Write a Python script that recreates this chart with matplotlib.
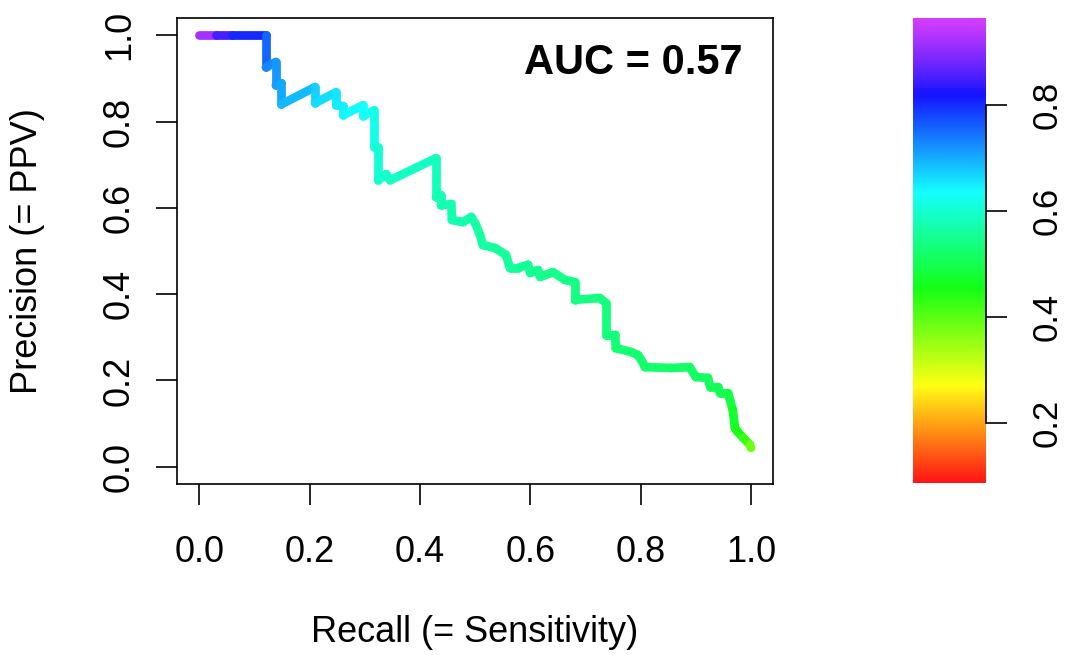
import numpy as np
import matplotlib
matplotlib.use("Agg")
import matplotlib.pyplot as plt
from matplotlib.collections import LineCollection
from matplotlib.colors import ListedColormap, hsv_to_rgb

plt.rcParams['font.family'] = ['Liberation Sans', 'DejaVu Sans']

# precision / recall curve, with the cutoff at each vertex
recall = [0.000, 0.030, 0.060, 0.121, 0.121, 0.139, 0.139, 0.149, 0.149, 0.210,
          0.210, 0.248, 0.248, 0.261, 0.261, 0.297, 0.297, 0.317, 0.317, 0.324,
          0.324, 0.339, 0.346, 0.429, 0.429, 0.438, 0.438, 0.457, 0.458, 0.478,
          0.493, 0.500, 0.509, 0.514, 0.536, 0.556, 0.563, 0.578, 0.596, 0.600,
          0.614, 0.618, 0.641, 0.663, 0.681, 0.681, 0.726, 0.737, 0.737, 0.754,
          0.755, 0.783, 0.795, 0.801, 0.808, 0.855, 0.889, 0.900, 0.922, 0.926,
          0.940, 0.944, 0.958, 0.962, 0.967, 0.971, 0.976, 0.986, 0.998, 1.000]
precision = [1.000, 1.000, 1.000, 1.000, 0.926, 0.938, 0.884, 0.889, 0.840, 0.880,
             0.843, 0.868, 0.838, 0.836, 0.815, 0.838, 0.813, 0.826, 0.741, 0.741,
             0.664, 0.678, 0.664, 0.715, 0.625, 0.630, 0.606, 0.609, 0.572, 0.567,
             0.579, 0.565, 0.537, 0.514, 0.507, 0.491, 0.461, 0.461, 0.468, 0.449,
             0.456, 0.440, 0.451, 0.433, 0.428, 0.387, 0.391, 0.380, 0.306, 0.306,
             0.275, 0.266, 0.259, 0.248, 0.231, 0.229, 0.231, 0.208, 0.206, 0.185,
             0.185, 0.171, 0.171, 0.155, 0.132, 0.090, 0.081, 0.067, 0.051, 0.044]
cutoff = [0.955, 0.880, 0.820, 0.780, 0.730, 0.720, 0.710, 0.705, 0.700, 0.675,
          0.670, 0.655, 0.650, 0.648, 0.645, 0.635, 0.630, 0.625, 0.610, 0.605,
          0.600, 0.598, 0.596, 0.585, 0.580, 0.578, 0.576, 0.574, 0.572, 0.570,
          0.568, 0.566, 0.564, 0.562, 0.560, 0.558, 0.556, 0.554, 0.552, 0.550,
          0.548, 0.546, 0.544, 0.542, 0.540, 0.538, 0.536, 0.534, 0.532, 0.530,
          0.528, 0.526, 0.524, 0.522, 0.520, 0.518, 0.516, 0.514, 0.512, 0.510,
          0.505, 0.500, 0.495, 0.490, 0.480, 0.465, 0.455, 0.440, 0.410, 0.360]

cut_range = [0.087, 0.964]
axis_ticks = [0.0, 0.2, 0.4, 0.6, 0.8, 1.0]
cbar_ticks = [0.2, 0.4, 0.6, 0.8]
auc_text = "AUC = 0.57"

# rainbow palette, red at the low cutoffs up to violet at the high ones
hues = np.linspace(0.0, 0.8, 256)
sat = np.where(hues > 0.68, 0.9 - (hues - 0.68) * 1.2, 0.92)
rgb = hsv_to_rgb(np.column_stack([hues, sat, np.ones(256)]))
rainbow = ListedColormap(rgb)
norm = plt.Normalize(cut_range[0], cut_range[1])

fig = plt.figure(figsize=(10.67, 6.55), dpi=100)
ax = fig.add_axes([0.166, 0.261, 0.5585, 0.7115])

pts = np.column_stack([recall, precision])
segs = np.stack([pts[:-1], pts[1:]], axis=1)
seg_cut = (np.array(cutoff[:-1]) + np.array(cutoff[1:])) / 2
lc = LineCollection(segs, cmap=rainbow, norm=norm, linewidths=6.3, capstyle='round', joinstyle='round')
lc.set_array(seg_cut)
ax.add_collection(lc)

ax.set_xlim(-0.04, 1.04)
ax.set_ylim(-0.04, 1.04)
ax.set_xticks(axis_ticks)
ax.set_yticks(axis_ticks)
ax.set_xticklabels([f"{t:.1f}" for t in axis_ticks])
ax.set_yticklabels([f"{t:.1f}" for t in axis_ticks], rotation=90, va='center')
ax.tick_params(axis='both', length=15, width=1.2, labelsize=26, direction='out')
ax.tick_params(axis='x', pad=22)
ax.tick_params(axis='y', pad=14)
for s in ax.spines.values():
    s.set_linewidth(1.2)

ax.text(0.985, 0.935, auc_text, ha='right', va='center', fontsize=30, fontweight='bold')

fig.text(475 / 1067, 1 - 633 / 655, "Recall (= Sensitivity)", ha='center', va='center', fontsize=26)
fig.text(28 / 1067, 1 - 251 / 655, "Precision (= PPV)", ha='center', va='center', fontsize=26, rotation=90)

# colour key
cax = fig.add_axes([0.8557, 0.2626, 0.0684, 0.71])
grad = np.linspace(cut_range[0], cut_range[1], 256).reshape(-1, 1)
cax.imshow(grad, cmap=rainbow, norm=norm, aspect='auto', origin='lower',
           extent=[0, 1, cut_range[0], cut_range[1]])
cax.set_xlim(0, 1)
cax.set_ylim(cut_range[0], cut_range[1])
for side in ['top', 'bottom', 'left']:
    cax.spines[side].set_visible(False)
cax.spines['right'].set_bounds(cbar_ticks[0], cbar_ticks[-1])
cax.spines['right'].set_linewidth(1.2)
cax.set_xticks([])
cax.yaxis.tick_right()
cax.set_yticks(cbar_ticks)
cax.set_yticklabels([f"{t:.1f}" for t in cbar_ticks], rotation=90, va='center')
cax.tick_params(axis='y', length=15, width=1.2, labelsize=25, pad=17)

fig.savefig("out.png", dpi=100)
